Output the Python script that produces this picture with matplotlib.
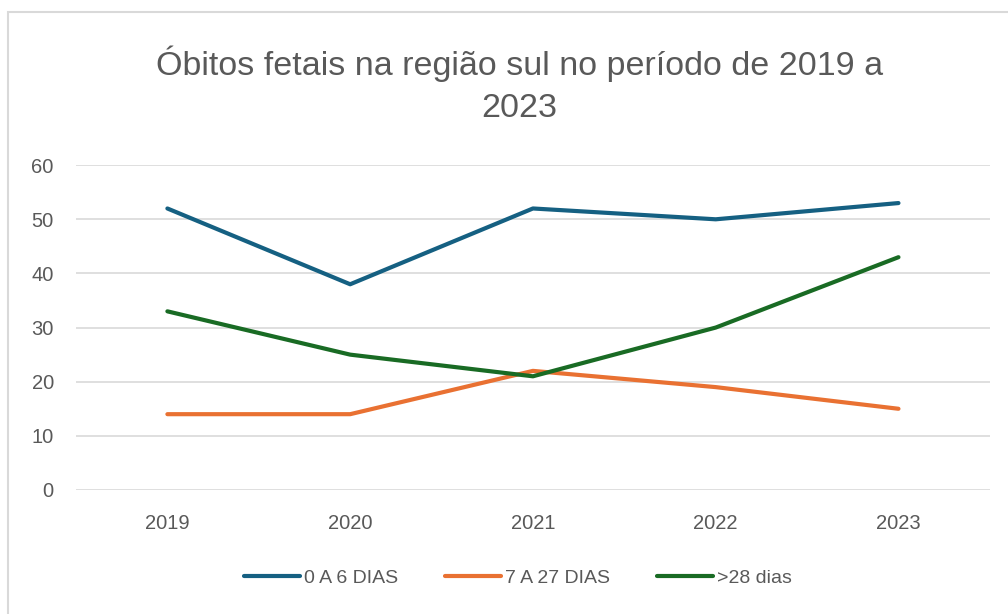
'''
Fetal deaths in the southern region, 2019-2023, by age group
'''

import matplotlib
matplotlib.use("Agg")
import matplotlib.pyplot as plt
from matplotlib.patches import Rectangle

years = ["2019", "2020", "2021", "2022", "2023"]
dias_0_6 = [52, 38, 52, 50, 53]
dias_7_27 = [14, 14, 22, 19, 15]
dias_28 = [33, 25, 21, 30, 43]
series_labels = ["0 A 6 DIAS", "7 A 27 DIAS", ">28 dias"]
yticks = [0, 10, 20, 30, 40, 50, 60]

colors = ["#156082", "#E97132", "#196B24"]
text_gray = "#595959"

plt.rcParams['font.family'] = ['Liberation Sans', 'DejaVu Sans']

fig = plt.figure(figsize=(10.08, 6.14), dpi=100)
ax = fig.add_axes([0.0754, 0.202, 0.9066, 0.529])

# chart area frame
fig.patches.append(Rectangle((8 / 1008, -0.1), 1.2, 1 - 12 / 614 + 0.1,
                             transform=fig.transFigure, fill=False,
                             edgecolor="#d9d9d9", lw=1.5))

x = [i + 0.5 for i in range(len(years))]
for values, label, c in zip([dias_0_6, dias_7_27, dias_28], series_labels, colors):
    ax.plot(x, values, color=c, lw=3, label=label,
            solid_capstyle='round', solid_joinstyle='round')

ax.set_xlim(0, len(years))
ax.set_ylim(0, 60)
ax.set_yticks(yticks)
ax.set_xticks(x)
ax.set_xticklabels(years)

ax.grid(True, 'major', 'y', color="#d9d9d9", lw=1.2)
ax.set_axisbelow(True)
for side in ['top', 'right', 'left', 'bottom']:
    ax.spines[side].set_visible(False)
ax.tick_params(axis='both', length=0, labelsize=14.5, colors=text_gray)
ax.tick_params(axis='y', pad=16)
ax.tick_params(axis='x', pad=17)

fig.text(0.515, 0.862, "Óbitos fetais na região sul no período de 2019 a\n2023",
         ha='center', va='center', fontsize=24.5, color=text_gray, linespacing=1.45)

fig.legend(loc='center', bbox_to_anchor=(0.514, 0.059), ncol=3, frameon=False,
           fontsize=14, labelcolor=text_gray, handlelength=2.9,
           handletextpad=0.2, columnspacing=2.4)

plt.savefig("out.png", dpi=100)
